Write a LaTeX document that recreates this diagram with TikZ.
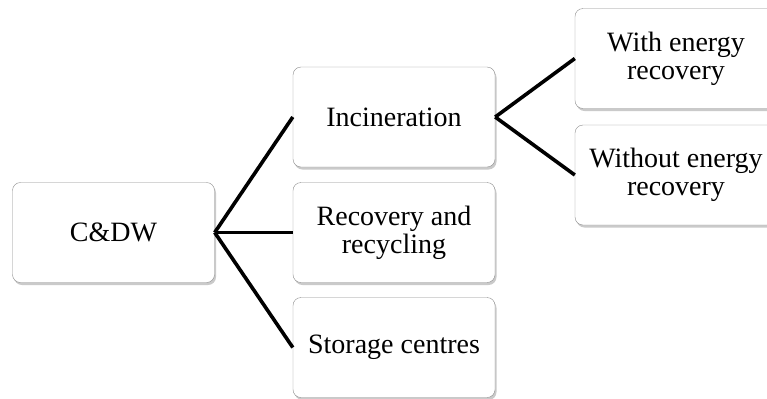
\documentclass[tikz,border=0pt]{standalone}
\usepackage{fontspec}
\setmainfont{Liberation Serif}
\usetikzlibrary{shadows}

\begin{document}
\begin{tikzpicture}[x=1bp,y=-1bp,
						every node/.style={font=\fontsize{28bp}{28bp}\selectfont},
						wastebox/.style={
						draw=black!45, fill=white, rounded corners=8bp,
						minimum width=202bp, minimum height=100bp,
						align=center, inner sep=0pt,
						drop shadow={shadow xshift=1.5bp, shadow yshift=-2.5bp,
						opacity=0.35, fill=black!60}},
						branch/.style={line width=3.6bp}]

		\useasboundingbox (0,0) rectangle (767,398);
		\clip (0,0) rectangle (767,398);

		\node[wastebox] (cdw) at (113.5,232.5) {C\&DW};
		\node[wastebox] (incin) at (394,117) {Incineration};
		\node[wastebox] (recov) at (394,232.5) {Recovery and\\recycling};
		\node[wastebox] (store) at (394,347.5) {Storage centres};
		\node[wastebox] (withen) at (676,58.5) {With energy\\recovery};
		\node[wastebox] (withouten) at (676,175) {Without energy\\recovery};

		\draw[branch] (cdw.east) -- (incin.west);
		\draw[branch] (cdw.east) -- (recov.west);
		\draw[branch] (cdw.east) -- (store.west);
		\draw[branch] (incin.east) -- (withen.west);
		\draw[branch] (incin.east) -- (withouten.west);

	\end{tikzpicture}
\end{document}
